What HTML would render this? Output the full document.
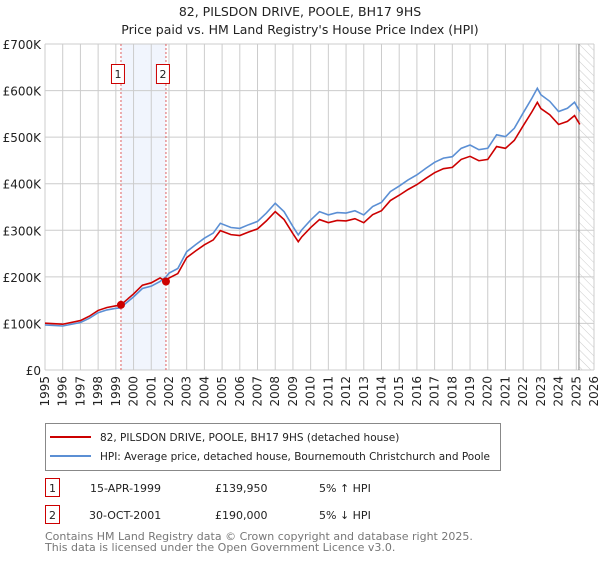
<!DOCTYPE html>
<html><head><meta charset="utf-8"><style>
body{margin:0;background:#fff;font-family:"DejaVu Sans","Liberation Sans",sans-serif;}
svg text{font-family:"DejaVu Sans","Liberation Sans",sans-serif;}
</style></head><body>
<svg id="chart" width="600" height="560" viewBox="0 0 600 560" xmlns="http://www.w3.org/2000/svg">
<defs><pattern id="hatch" width="6" height="6" patternUnits="userSpaceOnUse" patternTransform="rotate(-45)"><line x1="0" y1="0" x2="0" y2="6" stroke="#ccc" stroke-width="1"/></pattern></defs>
<text x="300" y="16" text-anchor="middle" font-size="12.5" fill="#222">82, PILSDON DRIVE, POOLE, BH17 9HS</text>
<text x="300" y="34" text-anchor="middle" font-size="12.5" fill="#222">Price paid vs. HM Land Registry's House Price Index (HPI)</text>
<g id="grid"></g><g id="marks"></g>
<g>
<rect x="45.5" y="423.5" width="455" height="47" fill="#fff" stroke="#888"/>
<line x1="50" y1="437" x2="91" y2="437" stroke="#cc0000" stroke-width="2"/>
<text x="100" y="441" font-size="10.5" fill="#222">82, PILSDON DRIVE, POOLE, BH17 9HS (detached house)</text>
<line x1="50" y1="456" x2="91" y2="456" stroke="#5b8fd4" stroke-width="2"/>
<text x="100" y="460" font-size="10.5" fill="#222" textLength="390" lengthAdjust="spacingAndGlyphs">HPI: Average price, detached house, Bournemouth Christchurch and Poole</text>
</g>
<g>
<rect x="45.5" y="478.5" width="14" height="18" fill="#fff" stroke="#cc0000"/>
<text x="52.5" y="492" text-anchor="middle" font-size="11" fill="#222">1</text>
<text x="90" y="492" font-size="11" fill="#222">15-APR-1999</text>
<text x="215" y="492" font-size="11" fill="#222">£139,950</text>
<text x="319" y="492" font-size="11" fill="#222">5% ↑ HPI</text>
<rect x="45.5" y="505.5" width="14" height="18" fill="#fff" stroke="#cc0000"/>
<text x="52.5" y="519" text-anchor="middle" font-size="11" fill="#222">2</text>
<text x="89" y="519" font-size="11" fill="#222">30-OCT-2001</text>
<text x="215" y="519" font-size="11" fill="#222">£190,000</text>
<text x="319" y="519" font-size="11" fill="#222">5% ↓ HPI</text>
</g>
<text x="45" y="540" font-size="11" fill="#777">Contains HM Land Registry data © Crown copyright and database right 2025.</text>
<text x="45" y="551" font-size="11" fill="#777">This data is licensed under the Open Government Licence v3.0.</text>
</svg>
<script>
const hpiYears=[1995,1996,1997,1997.5,1998,1998.5,1999,1999.25,2000,2000.5,2001,2001.5,2001.83,2002,2002.5,2003,2003.5,2004,2004.5,2004.9,2005.5,2006,2006.5,2007,2007.5,2008,2008.5,2009,2009.3,2009.5,2010,2010.5,2011,2011.5,2012,2012.5,2013,2013.5,2014,2014.5,2015,2015.5,2016,2016.5,2017,2017.5,2018,2018.5,2019,2019.5,2020,2020.5,2021,2021.5,2022,2022.5,2022.8,2023,2023.5,2024,2024.5,2024.9,2025.2];
const hpiValues=[96.7,94.5,102,111,123,129,132.5,133.3,157,175,180,190,200,208,218,254,269,283,294,315,306,304,312,319,337,358,340,308,290,301,322,340,333,338,337,342,333,351,360,383,395,408,419,433,446,455,458,476,483,473,476,505,501,519,552,584,605,591,577,555,562,575,555];
const saleYears=[1999.29,2001.83];
const salePrices=[139.95,190];
const saleLabels=["1","2"];
const yTicks=[0,100,200,300,400,500,600,700];
const yTickLabels=["£0","£100K","£200K","£300K","£400K","£500K","£600K","£700K"];
const xYears=[];for(let y=1995;y<=2026;y++)xYears.push(y);
const X0=45,X1=594,Y0=370,Y1=44;
const xs=y=>X0+(y-1995)/31*(X1-X0);
const ys=v=>Y0-v/700*(Y0-Y1);
const NS="http://www.w3.org/2000/svg";
function mk(p,tag,at){const e=document.createElementNS(NS,tag);for(const k in at)e.setAttribute(k,at[k]);p.appendChild(e);return e;}
const grid=document.getElementById('grid'),marks=document.getElementById('marks');
function hpiAt(t){for(let i=1;i<hpiYears.length;i++){if(t<=hpiYears[i]){const f=(t-hpiYears[i-1])/(hpiYears[i]-hpiYears[i-1]);return hpiValues[i-1]+f*(hpiValues[i]-hpiValues[i-1]);}}return hpiValues[hpiValues.length-1];}
const sh=mk(grid,'rect',{x:xs(saleYears[0]),y:Y1,width:xs(saleYears[1])-xs(saleYears[0]),height:Y0-Y1,fill:'#eef3fc',opacity:0.8});


const ht=mk(grid,'rect',{x:xs(2025.15),y:Y1,width:X1-xs(2025.15),height:Y0-Y1,fill:'url(#hatch)'});


yTicks.forEach((v,i)=>{
 const l=mk(grid,'line',{x1:X0,x2:X1,y1:ys(v),y2:ys(v),stroke:'#ccc','stroke-width':1});
 
 
 const t=mk(grid,'text',{x:X0-4,y:ys(v)+5,'text-anchor':'end','font-size':12,fill:'#222'});
 
 
 t.textContent=yTickLabels[i];
});
xYears.forEach(y=>{
 const l=mk(grid,'line',{x1:xs(y),x2:xs(y),y1:Y1,y2:Y0,stroke:'#ccc','stroke-width':1});
 
 
 const t=mk(grid,'text',{transform:`translate(${xs(y)+4},${Y0+6}) rotate(-90)`,'text-anchor':'end','font-size':12,fill:'#222'});
 
 
 t.textContent=y;
});
const vl=mk(grid,'line',{x1:xs(2025.15),x2:xs(2025.15),y1:Y1,y2:Y0,stroke:'#888','stroke-width':1});


saleYears.forEach((y,i)=>{
 const l=mk(grid,'line',{x1:xs(y),x2:xs(y),y1:Y1,y2:Y0,stroke:'#e06060','stroke-width':1,'stroke-dasharray':'2,2'});
 
 
 const r=mk(grid,'rect',{x:xs(y)-9.5,y:64.5,width:13,height:19,fill:'#fff',stroke:'#cc0000'});
 
 
 const t=mk(grid,'text',{x:xs(y)-3,y:78,'text-anchor':'middle','font-size':11,fill:'#222'});
 
 
 t.textContent=saleLabels[i];
});
const hp=mk(marks,'polyline',{points:hpiYears.map((y,i)=>xs(y)+','+ys(hpiValues[i])).join(' '),fill:'none',stroke:'#5b8fd4','stroke-width':1.6});


const rp=[];
hpiYears.forEach((y,i)=>{
 let k=0;if(y>=saleYears[1])k=1;
 const v=salePrices[k]*hpiValues[i]/hpiAt(saleYears[k]);
 rp.push(xs(y)+','+ys(v));
 if(i+1<hpiYears.length&&hpiYears[i+1]>saleYears[1]&&y<saleYears[1]){
  rp.push(xs(saleYears[1])+','+ys(salePrices[0]*hpiAt(saleYears[1])/hpiAt(saleYears[0])));
  rp.push(xs(saleYears[1])+','+ys(salePrices[1]));
 }
});
const pl=mk(marks,'polyline',{points:rp.join(' '),fill:'none',stroke:'#cc0000','stroke-width':1.6});


saleYears.forEach((y,i)=>{
 const c=mk(marks,'circle',{cx:xs(y),cy:ys(salePrices[i]),r:4,fill:'#cc0000'});
 
 
});
</script>
</body></html>
